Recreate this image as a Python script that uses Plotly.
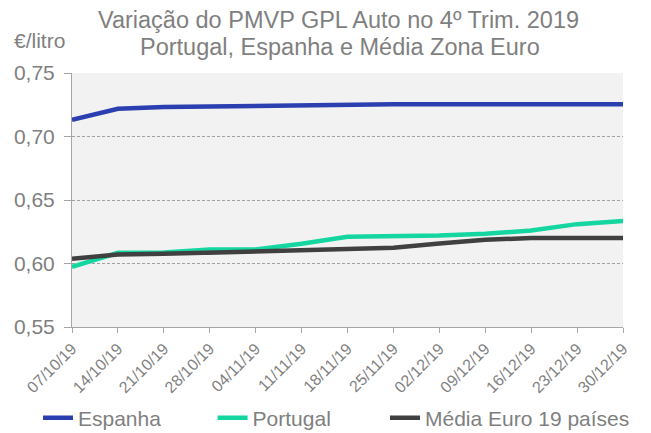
import plotly.graph_objects as go

dates = ["07/10/19", "14/10/19", "21/10/19", "28/10/19", "04/11/19", "11/11/19", "18/11/19",
         "25/11/19", "02/12/19", "09/12/19", "16/12/19", "23/12/19", "30/12/19"]
espanha = [0.7132, 0.7218, 0.7232, 0.7237, 0.7240, 0.7247, 0.7253, 0.7253, 0.7253, 0.7253, 0.7253, 0.7253, 0.7253]
portugal = [0.5974, 0.6084, 0.6087, 0.6110, 0.6110, 0.6155, 0.6211, 0.6216, 0.6220, 0.6234, 0.6260, 0.6310, 0.6334]
media = [0.6037, 0.6071, 0.6076, 0.6084, 0.6095, 0.6100, 0.6108, 0.6124, 0.6158, 0.6187, 0.6200, 0.6200, 0.6200]
yticks = [0.55, 0.60, 0.65, 0.70, 0.75]
ytick_text = ["0,55", "0,60", "0,65", "0,70", "0,75"]
series_names = ["Espanha", "Portugal", "Média Euro 19 países"]
title_lines = ["Variação do PMVP GPL Auto no 4º Trim. 2019", "Portugal, Espanha e Média Zona Euro"]
unit_label = "€/litro"

FONT = "Liberation Sans, Arial, sans-serif"
GREY = "#7f7f7f"
AXIS = "#a6a6a6"

# page body has an 8px margin; figure is sized to fill the rest of the window
W, H = 643, 425
L, R, T, B = 64, 28, 65, 106
PH = H - T - B

PAD = "\u00a0" * 8  # spacing between legend entries

fig = go.Figure()
fig.add_trace(go.Scatter(x=dates, y=espanha, name=series_names[0] + PAD, mode="lines",
                         line=dict(color="#2b3fb0", width=4.5), legend="legend"))
fig.add_trace(go.Scatter(x=dates, y=portugal, name=series_names[1], mode="lines",
                         line=dict(color="#14d6a0", width=4.5), legend="legend"))
fig.add_trace(go.Scatter(x=dates, y=media, name=series_names[2], mode="lines",
                         line=dict(color="#404040", width=4.5), legend="legend2"))

def py(screen_y):
    fy = screen_y - 8
    return (H - B - fy) / PH

def px(screen_x):
    fx = screen_x - 8
    return (fx - L) / (W - L - R)

legend_style = dict(orientation="h", xanchor="left", xref="container",
                    yref="container", y=15 / H, yanchor="middle",
                    font=dict(size=21, color=GREY, family=FONT), bgcolor="rgba(0,0,0,0)",
                    itemwidth=30, tracegroupgap=0)

fig.update_layout(
    width=W, height=H,
    margin=dict(l=L, r=R, t=T, b=B, autoexpand=False),
    paper_bgcolor="white",
    plot_bgcolor="#f2f2f2",
    font=dict(family=FONT, color=GREY),
    showlegend=True,
    legend=dict(x=30 / W, **legend_style),
    legend2=dict(x=377 / W, **legend_style),
    xaxis=dict(type="category", range=[0, 12], tickangle=-45,
               tickfont=dict(size=16, color=GREY, family=FONT),
               showline=True, linecolor=AXIS, linewidth=1,
               ticks="outside", ticklen=5, tickcolor=AXIS,
               showgrid=False, zeroline=False, automargin=False),
    yaxis=dict(range=[0.55, 0.75], tickvals=yticks, ticktext=ytick_text,
               tickfont=dict(size=21, color=GREY, family=FONT),
               showline=True, linecolor=AXIS, linewidth=1,
               ticks="outside", ticklen=7, tickcolor=AXIS, ticklabelstandoff=5,
               showgrid=True, gridcolor="#a0a0a0", griddash="3px,2px", gridwidth=1,
               zeroline=False, automargin=False),
    annotations=[
        dict(text=title_lines[0], xref="paper", yref="paper", x=px(338), y=py(20),
             xanchor="center", yanchor="middle", showarrow=False,
             font=dict(size=23.5, color=GREY, family=FONT)),
        dict(text=title_lines[1], xref="paper", yref="paper", x=px(340), y=py(47),
             xanchor="center", yanchor="middle", showarrow=False,
             font=dict(size=23.5, color=GREY, family=FONT)),
        dict(text=unit_label, xref="paper", yref="paper", x=px(12), y=py(40),
             xanchor="left", yanchor="middle", showarrow=False,
             font=dict(size=21, color=GREY, family=FONT)),
    ],
)

fig.write_html("out.html")
